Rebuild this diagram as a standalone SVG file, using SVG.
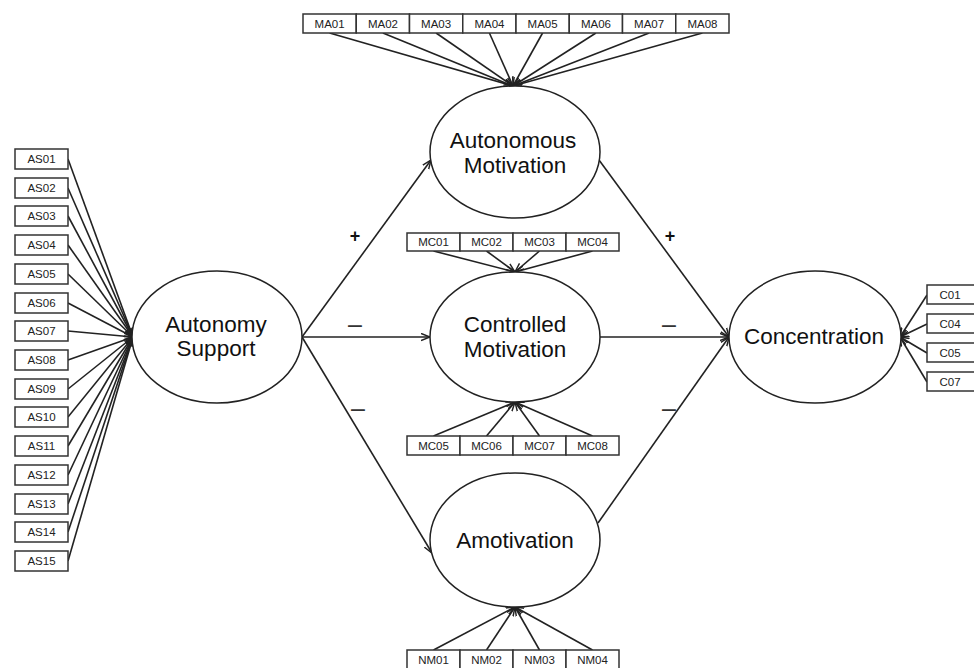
<svg xmlns="http://www.w3.org/2000/svg" width="974" height="668" viewBox="0 0 974 668">
<style>
.box{fill:#fff;stroke:#333;stroke-width:1.5}
.bt{font-family:"Liberation Sans",Arial,sans-serif;font-size:11.5px;fill:#222;text-anchor:middle}
.el{fill:#fff;stroke:#222;stroke-width:1.5}
.et{font-family:"Liberation Sans",Arial,sans-serif;font-size:22.5px;fill:#111;text-anchor:middle}
.pl{font-family:"Liberation Sans",Arial,sans-serif;font-size:18px;font-weight:bold;fill:#111;text-anchor:middle}
.mn{font-family:"Liberation Sans",Arial,sans-serif;font-size:25px;fill:#333;text-anchor:middle}
.c line{stroke:#222;stroke-width:1.6;marker-end:url(#a)}
</style>
<defs>
<marker id="a" viewBox="0 0 10 10" refX="10" refY="5" markerWidth="9" markerHeight="9" orient="auto" markerUnits="userSpaceOnUse"><path d="M0,1 L10,5 L0,9" fill="none" stroke="#222" stroke-width="1.6"/></marker>
</defs>
<rect width="974" height="668" fill="#fff"/>
<g id="connectors" class="c">
<line x1="329.6" y1="33" x2="513" y2="86"/>
<line x1="382.9" y1="33" x2="513" y2="86"/>
<line x1="436.1" y1="33" x2="513" y2="86"/>
<line x1="489.4" y1="33" x2="513" y2="86"/>
<line x1="542.6" y1="33" x2="513" y2="86"/>
<line x1="595.9" y1="33" x2="513" y2="86"/>
<line x1="649.1" y1="33" x2="513" y2="86"/>
<line x1="702.4" y1="33" x2="513" y2="86"/>
<line x1="68" y1="159" x2="133" y2="337"/>
<line x1="68" y1="188" x2="133" y2="337"/>
<line x1="68" y1="216" x2="133" y2="337"/>
<line x1="68" y1="245" x2="133" y2="337"/>
<line x1="68" y1="274" x2="133" y2="337"/>
<line x1="68" y1="303" x2="133" y2="337"/>
<line x1="68" y1="331" x2="133" y2="337"/>
<line x1="68" y1="360" x2="133" y2="337"/>
<line x1="68" y1="389" x2="133" y2="337"/>
<line x1="68" y1="417" x2="133" y2="337"/>
<line x1="68" y1="446" x2="133" y2="337"/>
<line x1="68" y1="475" x2="133" y2="337"/>
<line x1="68" y1="504" x2="133" y2="337"/>
<line x1="68" y1="532" x2="133" y2="337"/>
<line x1="68" y1="561" x2="133" y2="337"/>
<line x1="433.5" y1="251" x2="515" y2="272"/>
<line x1="486.5" y1="251" x2="515" y2="272"/>
<line x1="539.5" y1="251" x2="515" y2="272"/>
<line x1="592.5" y1="251" x2="515" y2="272"/>
<line x1="433.5" y1="436" x2="515" y2="402"/>
<line x1="486.5" y1="436" x2="515" y2="402"/>
<line x1="539.5" y1="436" x2="515" y2="402"/>
<line x1="592.5" y1="436" x2="515" y2="402"/>
<line x1="433.5" y1="650" x2="515" y2="607"/>
<line x1="486.5" y1="650" x2="515" y2="607"/>
<line x1="539.5" y1="650" x2="515" y2="607"/>
<line x1="592.5" y1="650" x2="515" y2="607"/>
<line x1="927" y1="295" x2="900" y2="337"/>
<line x1="927" y1="324" x2="900" y2="337"/>
<line x1="927" y1="353" x2="900" y2="337"/>
<line x1="927" y1="382" x2="900" y2="337"/>
<line x1="302" y1="337" x2="431" y2="160"/>
<line x1="302" y1="337" x2="430" y2="337"/>
<line x1="302" y1="337" x2="432" y2="553"/>
<line x1="599" y1="160" x2="729" y2="337"/>
<line x1="600" y1="337" x2="729" y2="337"/>
<line x1="598" y1="523" x2="729" y2="337"/>
</g>
<g id="signs">
<text class="pl" x="355" y="241.5">+</text>
<text class="mn" x="355" y="333">–</text>
<text class="mn" x="358" y="417">–</text>
<text class="pl" x="670" y="241.5">+</text>
<text class="mn" x="669" y="333">–</text>
<text class="mn" x="669" y="417">–</text>
</g>
<g id="AutonomySupport"><ellipse class="el" cx="217" cy="337" rx="85" ry="66"/><text class="et" x="216" y="332">Autonomy</text><text class="et" x="216" y="356">Support</text></g>
<g id="AutonomousMotivation"><ellipse class="el" cx="515" cy="152" rx="85" ry="66"/><text class="et" x="513" y="148">Autonomous</text><text class="et" x="515" y="173">Motivation</text></g>
<g id="ControlledMotivation"><ellipse class="el" cx="515" cy="337" rx="85" ry="65"/><text class="et" x="515" y="332">Controlled</text><text class="et" x="515" y="357">Motivation</text></g>
<g id="Amotivation"><ellipse class="el" cx="515" cy="540" rx="85" ry="67"/><text class="et" x="515" y="548">Amotivation</text></g>
<g id="Concentration"><ellipse class="el" cx="815" cy="337" rx="86" ry="66"/><text class="et" x="814" y="344">Concentration</text></g>
<g id="MA">
<rect class="box" x="303" y="14" width="53.25" height="19"/><text class="bt" x="329.6" y="27.5">MA01</text>
<rect class="box" x="356.25" y="14" width="53.25" height="19"/><text class="bt" x="382.9" y="27.5">MA02</text>
<rect class="box" x="409.5" y="14" width="53.25" height="19"/><text class="bt" x="436.1" y="27.5">MA03</text>
<rect class="box" x="462.75" y="14" width="53.25" height="19"/><text class="bt" x="489.4" y="27.5">MA04</text>
<rect class="box" x="516" y="14" width="53.25" height="19"/><text class="bt" x="542.6" y="27.5">MA05</text>
<rect class="box" x="569.25" y="14" width="53.25" height="19"/><text class="bt" x="595.9" y="27.5">MA06</text>
<rect class="box" x="622.5" y="14" width="53.25" height="19"/><text class="bt" x="649.1" y="27.5">MA07</text>
<rect class="box" x="675.75" y="14" width="53.25" height="19"/><text class="bt" x="702.4" y="27.5">MA08</text>
</g>
<g id="AS">
<rect class="box" x="15" y="149" width="53" height="20"/><text class="bt" x="41.5" y="163">AS01</text>
<rect class="box" x="15" y="178" width="53" height="20"/><text class="bt" x="41.5" y="192">AS02</text>
<rect class="box" x="15" y="206" width="53" height="20"/><text class="bt" x="41.5" y="220">AS03</text>
<rect class="box" x="15" y="235" width="53" height="20"/><text class="bt" x="41.5" y="249">AS04</text>
<rect class="box" x="15" y="264" width="53" height="20"/><text class="bt" x="41.5" y="278">AS05</text>
<rect class="box" x="15" y="293" width="53" height="20"/><text class="bt" x="41.5" y="307">AS06</text>
<rect class="box" x="15" y="321" width="53" height="20"/><text class="bt" x="41.5" y="335">AS07</text>
<rect class="box" x="15" y="350" width="53" height="20"/><text class="bt" x="41.5" y="364">AS08</text>
<rect class="box" x="15" y="379" width="53" height="20"/><text class="bt" x="41.5" y="393">AS09</text>
<rect class="box" x="15" y="407" width="53" height="20"/><text class="bt" x="41.5" y="421">AS10</text>
<rect class="box" x="15" y="436" width="53" height="20"/><text class="bt" x="41.5" y="450">AS11</text>
<rect class="box" x="15" y="465" width="53" height="20"/><text class="bt" x="41.5" y="479">AS12</text>
<rect class="box" x="15" y="494" width="53" height="20"/><text class="bt" x="41.5" y="508">AS13</text>
<rect class="box" x="15" y="522" width="53" height="20"/><text class="bt" x="41.5" y="536">AS14</text>
<rect class="box" x="15" y="551" width="53" height="20"/><text class="bt" x="41.5" y="565">AS15</text>
</g>
<g id="MC-top">
<rect class="box" x="407" y="233" width="53" height="18"/><text class="bt" x="433.5" y="246">MC01</text>
<rect class="box" x="460" y="233" width="53" height="18"/><text class="bt" x="486.5" y="246">MC02</text>
<rect class="box" x="513" y="233" width="53" height="18"/><text class="bt" x="539.5" y="246">MC03</text>
<rect class="box" x="566" y="233" width="53" height="18"/><text class="bt" x="592.5" y="246">MC04</text>
</g>
<g id="MC-bottom">
<rect class="box" x="407" y="436" width="53" height="19"/><text class="bt" x="433.5" y="449.5">MC05</text>
<rect class="box" x="460" y="436" width="53" height="19"/><text class="bt" x="486.5" y="449.5">MC06</text>
<rect class="box" x="513" y="436" width="53" height="19"/><text class="bt" x="539.5" y="449.5">MC07</text>
<rect class="box" x="566" y="436" width="53" height="19"/><text class="bt" x="592.5" y="449.5">MC08</text>
</g>
<g id="NM">
<rect class="box" x="407" y="650" width="53" height="19"/><text class="bt" x="433.5" y="663.5">NM01</text>
<rect class="box" x="460" y="650" width="53" height="19"/><text class="bt" x="486.5" y="663.5">NM02</text>
<rect class="box" x="513" y="650" width="53" height="19"/><text class="bt" x="539.5" y="663.5">NM03</text>
<rect class="box" x="566" y="650" width="53" height="19"/><text class="bt" x="592.5" y="663.5">NM04</text>
</g>
<g id="C">
<rect class="box" x="927" y="285" width="53" height="19"/><text class="bt" x="950" y="298.5">C01</text>
<rect class="box" x="927" y="314" width="53" height="19"/><text class="bt" x="950" y="327.5">C04</text>
<rect class="box" x="927" y="343" width="53" height="19"/><text class="bt" x="950" y="356.5">C05</text>
<rect class="box" x="927" y="372" width="53" height="19"/><text class="bt" x="950" y="385.5">C07</text>
</g>
</svg>
